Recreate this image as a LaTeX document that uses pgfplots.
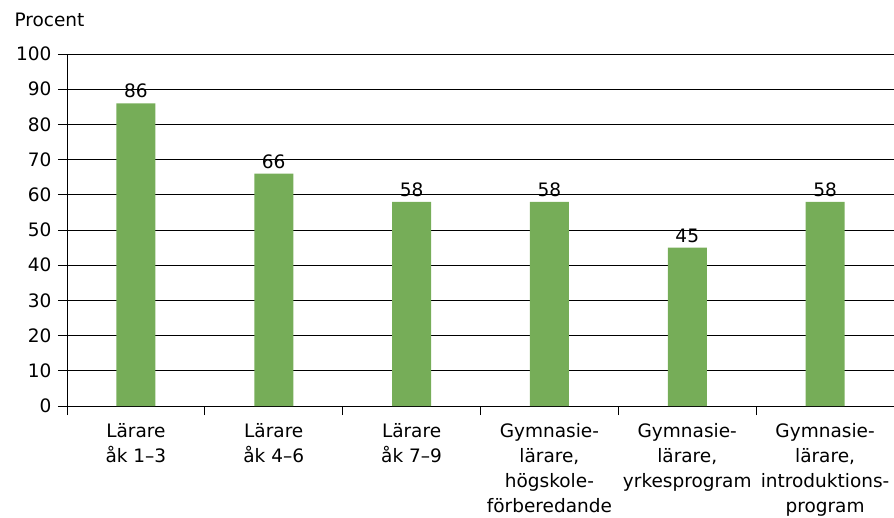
\documentclass[border=0pt]{standalone}
\usepackage{pgfplots}
\pgfplotsset{compat=1.18}
\usepackage{fontspec}
\setmainfont{DejaVu Sans}
\definecolor{bargreen}{RGB}{118,173,88}

\begin{document}
\begin{tikzpicture}[x=1pt,y=1pt]
\useasboundingbox (0,0) rectangle (894,517);
\begin{axis}[
    at={(67pt,111pt)}, anchor=south west,
    scale only axis,
    width=827pt, height=352pt,
    font=\fontsize{18.5}{24}\selectfont,
    ymin=0, ymax=100, ytick={0,10,...,100},
    xmin=-0.5, xmax=5.5,
    axis x line*=bottom, axis y line*=left,
    axis line style={black, line width=0.9pt},
    ymajorgrids, grid style={black, line width=0.7pt},
    tick align=outside, major tick length=9pt,
    tick style={black, line width=0.9pt},
    xtick={-0.5,0.5,...,5.5}, xticklabels={},
    extra x ticks={0,1,2,3,4,5},
    extra x tick labels={{Lärare\\åk 1–3},{Lärare\\åk 4–6},{Lärare\\åk 7–9},{Gymnasie-\\lärare,\\högskole-\\förberedande},{Gymnasie-\\lärare,\\yrkesprogram},{Gymnasie-\\lärare,\\introduktions-\\program}},
    extra x tick style={major tick length=0pt, grid=none,
        xticklabel style={align=center, yshift=-14pt, font=\fontsize{18.5}{25}\selectfont}},
    yticklabel style={/pgf/number format/assume math mode=true, xshift=-3pt},
    ybar, bar width=39pt,
    nodes near coords={\pgfmathprintnumber[assume math mode=true]{\pgfplotspointmeta}},
    nodes near coords style={font=\fontsize{18.5}{24}\selectfont, black, inner sep=1pt, yshift=4pt},
    clip=false,
]
\addplot[fill=bargreen, draw=none] coordinates {
    (0,86) (1,66) (2,58) (3,58) (4,45) (5,58)
};
\node[anchor=base west] at ([xshift=-56pt, yshift=27pt]rel axis cs:0,1) {Procent};
\end{axis}
\end{tikzpicture}
\end{document}
